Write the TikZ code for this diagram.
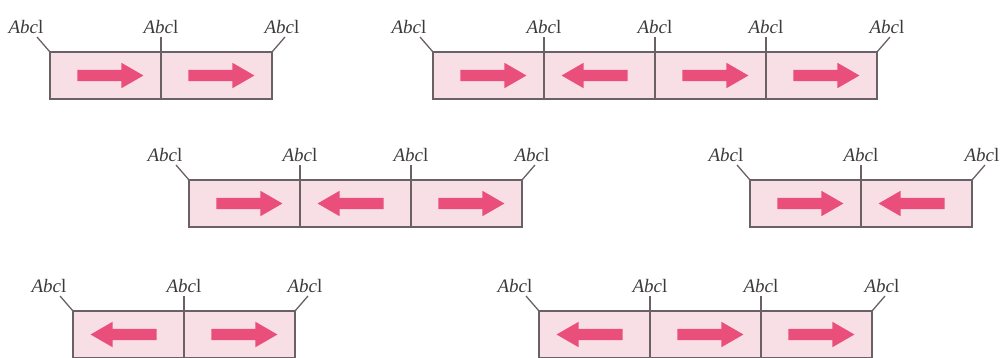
\documentclass[tikz,border=0pt]{standalone}
\usepackage{fontspec}
\setmainfont{Liberation Serif}
\usepackage{tikz}
\usetikzlibrary{shapes.arrows,positioning}
\definecolor{cellpink}{HTML}{F7DFE5}
\definecolor{arrowpink}{HTML}{EA4F7C}
\definecolor{boxgray}{HTML}{6A6166}
\definecolor{lblgray}{HTML}{3C3A3B}
\newcommand{\abc}{\textit{Abc}l}
\newcommand{\cw}{111}
% #1 name, (#2,#3) top-left corner, #4 number of cells, #5 arrow directions (0 = right, 180 = left)
\newcommand{\strip}[5]{%
  \begin{scope}[shift={(#2,#3)}]
    \foreach \d [count=\i] in {#5} {
      \node[cell] (#1\i) at ({(\i-0.5)*\cw},23.5) {};
      \node[flow,shape border rotate=\d] (#1a\i) at (#1\i) {};
    }
    % outer ends
    \node[lbl] (#1l0) at (-24,-25) {\abc};
    \coordinate (#1t0) at (-13,-15);
    \draw[lead] (#1t0) -- (#11.north west);
    \node[lbl] (#1l#4) at ({#4*\cw+10},-25) {\abc};
    \coordinate (#1t#4) at ({#4*\cw+13},-15);
    \draw[lead] (#1t#4) -- (#1#4.north east);
    % dividers
    \pgfmathtruncatemacro{\ndiv}{#4-1}
    \foreach \k in {1,...,\ndiv} {
      \node[lbl] (#1l\k) at ({\k*\cw},-25) {\abc};
      \coordinate (#1t\k) at ({\k*\cw},-15);
      \draw[lead] (#1t\k) -- (#1\k.south east);
    }
  \end{scope}
}

\begin{document}
\begin{tikzpicture}[
  x=1pt, y=-1pt,
  cell/.style={draw=boxgray,fill=cellpink,line width=1.3pt,minimum width=\cw pt,minimum height=47pt,inner sep=0pt,outer sep=0pt},
  flow/.style={single arrow,fill=arrowpink,draw=none,minimum height=66pt,inner xsep=0pt,inner ysep=5.5pt,
    single arrow head extend=7pt,single arrow tip angle=60},
  lbl/.style={text=lblgray,font=\fontsize{19}{21}\selectfont,inner sep=0pt},
  lead/.style={draw=boxgray,line width=1.3pt}]
  \useasboundingbox (0,0) rectangle (1005,357);
  \clip (0,0) rectangle (1005,357);
  \strip{topL}{50}{52}{2}{0,0}
  \strip{topR}{433}{52}{4}{0,180,0,0}
  \strip{midL}{189}{180}{3}{0,180,0}
  \strip{midR}{750}{180}{2}{0,180}
  \strip{lowL}{73}{311}{2}{180,0}
  \strip{lowR}{539}{311}{3}{180,0,0}
\end{tikzpicture}
\end{document}
